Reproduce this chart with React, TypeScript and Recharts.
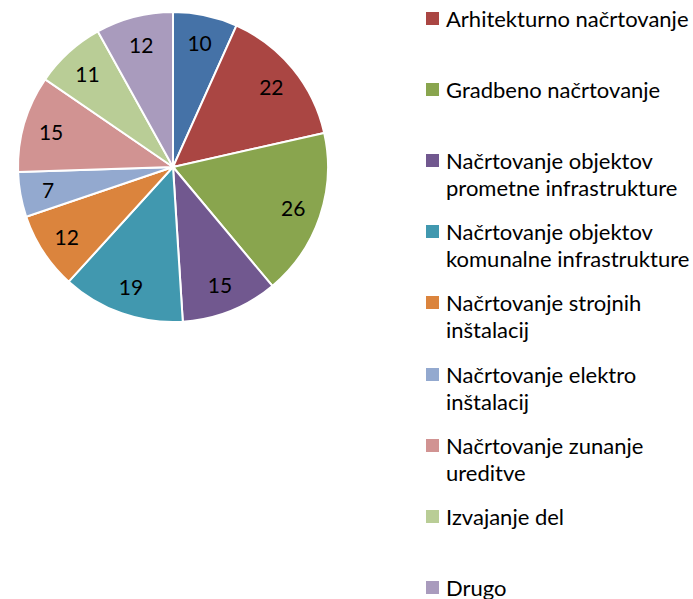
import React from "react";
import { PieChart, Pie, Cell, Legend } from "recharts";

const categories = [
  "Projektno vodenje",
  "Arhitekturno načrtovanje",
  "Gradbeno načrtovanje",
  "Načrtovanje objektov prometne infrastrukture",
  "Načrtovanje objektov komunalne infrastrukture",
  "Načrtovanje strojnih inštalacij",
  "Načrtovanje elektro inštalacij",
  "Načrtovanje zunanje ureditve",
  "Izvajanje del",
  "Drugo",
];
const legendLines = [
  ["Projektno vodenje"],
  ["Arhitekturno načrtovanje"],
  ["Gradbeno načrtovanje"],
  ["Načrtovanje objektov", "prometne infrastrukture"],
  ["Načrtovanje objektov", "komunalne infrastrukture"],
  ["Načrtovanje strojnih", "inštalacij"],
  ["Načrtovanje elektro", "inštalacij"],
  ["Načrtovanje zunanje", "ureditve"],
  ["Izvajanje del"],
  ["Drugo"],
];
const values = [10, 22, 26, 15, 19, 12, 7, 15, 11, 12];
const colors = [
  "#4572A7",
  "#AA4643",
  "#89A54E",
  "#71588F",
  "#4198AF",
  "#DB843D",
  "#93A9CF",
  "#D19392",
  "#B9CD96",
  "#A99BBD",
];

const data = categories.map((name, i) => ({ name, value: values[i] }));

const RAD = Math.PI / 180;
const FONT = "Lato, 'Open Sans', sans-serif";

const renderLabel = (props: any) => {
  const { cx, cy, midAngle, value } = props;
  const r = 127;
  const x = cx + r * Math.cos(-midAngle * RAD);
  const y = cy + r * Math.sin(-midAngle * RAD);
  return (
    <text
      x={x}
      y={y}
      fill="#000"
      textAnchor="middle"
      dominantBaseline="central"
      fontSize={21}
      fontFamily={FONT}
    >
      {value}
    </text>
  );
};

const renderLegend = () => {
  const slot = 71.2;
  const firstCenter = 18 - slot; // first item lies above the visible page
  return (
    <div style={{ position: "relative", width: 280, height: 599 }}>
      {legendLines.map((lines, i) => {
        if (i === 0) return null;
        const cyItem = firstCenter + i * slot;
        return (
          <div
            key={i}
            style={{
              position: "absolute",
              left: 0,
              top: cyItem - 13.5,
              display: "flex",
              alignItems: "flex-start",
            }}
          >
            <div
              style={{
                width: 13,
                height: 13,
                background: colors[i],
                marginTop: 7,
                marginRight: 7,
                flex: "none",
              }}
            />
            <div
              style={{
                fontFamily: FONT,
                fontSize: 22,
                lineHeight: "27px",
                color: "#000",
                whiteSpace: "nowrap",
              }}
            >
              {lines.map((l, j) => (
                <div key={j}>{l}</div>
              ))}
            </div>
          </div>
        );
      })}
    </div>
  );
};

export default function App() {
  return (
    <div style={{ position: "absolute", left: 0, top: 0, width: 693, height: 599, background: "#fff", overflow: "hidden" }}>
      <PieChart width={693} height={599} margin={{ top: 0, right: 0, bottom: 0, left: 0 }}>
        <Pie
          data={data}
          dataKey="value"
          nameKey="name"
          cx={173}
          cy={167}
          outerRadius={155}
          startAngle={90}
          endAngle={-270}
          stroke="#fff"
          strokeWidth={2}
          label={renderLabel}
          labelLine={false}
          isAnimationActive={false}
        >
          {data.map((d, i) => (
            <Cell key={d.name} fill={colors[i]} />
          ))}
        </Pie>
        <Legend
          content={renderLegend}
          wrapperStyle={{ position: "absolute", left: 426, top: 0, width: 280, height: 599 }}
        />
      </PieChart>
    </div>
  );
}
